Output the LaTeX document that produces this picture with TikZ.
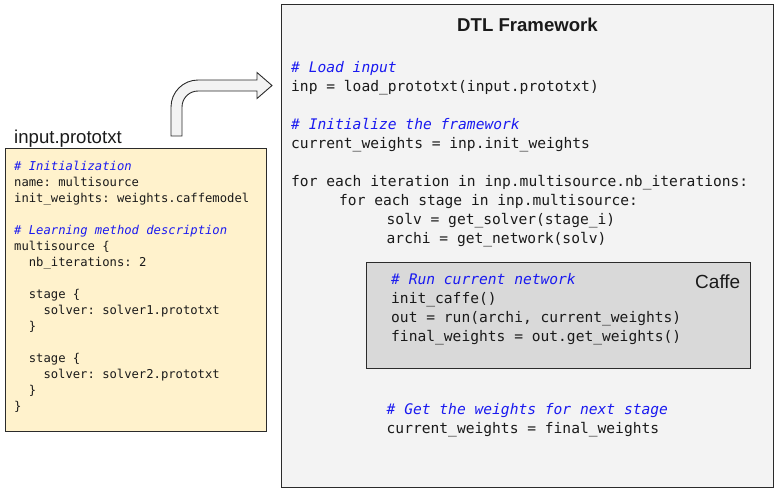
\documentclass[tikz,border=0pt]{standalone}
\usepackage{fontspec}
\setmainfont{Liberation Sans}
\setmonofont{DejaVu Sans Mono}
\definecolor{txt}{HTML}{1A1A1A}
\definecolor{cblue}{HTML}{1A1AF0}
\definecolor{yel}{HTML}{FFF2CC}
\definecolor{bgl}{HTML}{F3F3F3}
\definecolor{caffe}{HTML}{D9D9D9}
\definecolor{edge}{HTML}{2B2B2B}
\tikzset{
  rcode/.style={font=\fontsize{14.6}{19}\selectfont\ttfamily, text=txt, inner sep=0pt, anchor=base west},
  rcmt/.style={rcode, font=\fontsize{14.6}{19}\selectfont\ttfamily\itshape, text=cblue},
  lcode/.style={font=\fontsize{12.2}{16}\selectfont\ttfamily, text=txt, inner sep=0pt, anchor=base west},
  lcmt/.style={lcode, font=\fontsize{12.2}{16}\selectfont\ttfamily\itshape, text=cblue},
  label/.style={font=\fontsize{18.6}{22}\selectfont, text=txt, inner sep=0pt},
  panel/.style={draw=edge, line width=1pt}
}
\begin{document}
\begin{tikzpicture}[x=1pt,y=-1pt]
\useasboundingbox (0,0) rectangle (777,491);
% boxes
\draw[panel, fill=bgl] (281,4.5) rectangle (773,487);
\draw[panel, fill=yel] (5,148.3) rectangle (266.5,431.5);
\draw[panel, fill=caffe] (366,262) rectangle (750,368);
% bent arrow
\draw[draw=edge, line width=0.9pt, fill=bgl, line join=miter]
  (171,136) -- (171,107) arc[start angle=180, end angle=270, radius=27]
  -- (257,80) -- (257,72.5) -- (272,85.5) -- (257,98.5) -- (257,91) -- (198,91)
  arc[start angle=270, end angle=180, radius=16] -- (182,136) -- cycle;
% labels
\node[label, anchor=base west] (inlab) at (14,143.3) {input.prototxt};
\node[label, anchor=base, font=\fontsize{18.6}{22}\selectfont\bfseries] (title) at (527.5,31.7) {DTL Framework};
\node[label, anchor=base east, font=\fontsize{19}{22}\selectfont] (caffelab) at (740.5,288) {Caffe};
% left code
\node[lcmt] (l1) at (14,170) {\# Initialization};
\node[lcode] (l2) at (14,186) {name: multisource};
\node[lcode] (l3) at (14,202) {init\_weights: weights.caffemodel};
\node[lcmt] (l4) at (14,234) {\# Learning method description};
\node[lcode] (l5) at (14,250) {multisource \{};
\node[lcode] (l6) at (28.7,266) {nb\_iterations: 2};
\node[lcode] (l7) at (28.7,298) {stage \{};
\node[lcode] (l8) at (43.3,314) {solver: solver1.prototxt};
\node[lcode] (l9) at (28.7,330) {\}};
\node[lcode] (l10) at (28.7,362) {stage \{};
\node[lcode] (l11) at (43.3,378) {solver: solver2.prototxt};
\node[lcode] (l12) at (28.7,394) {\}};
\node[lcode] (l13) at (14,410) {\}};
% right code
\node[rcmt] (r1) at (291,72.7) {\# Load input};
\node[rcode] (r2) at (291,91.7) {inp = load\_prototxt(input.prototxt)};
\node[rcmt] (r3) at (291,129.7) {\# Initialize the framework};
\node[rcode] (r4) at (291,148.7) {current\_weights = inp.init\_weights};
\node[rcode] (r5) at (291,186.7) {for each iteration in inp.multisource.nb\_iterations:};
\node[rcode] (r6) at (339,205.7) {for each stage in inp.multisource:};
\node[rcode] (r7) at (386.5,224.7) {solv = get\_solver(stage\_i)};
\node[rcode] (r8) at (386.5,243.7) {archi = get\_network(solv)};
% caffe code
\node[rcmt] (c1) at (391,284.7) {\# Run current network};
\node[rcode] (c2) at (391,303.7) {init\_caffe()};
\node[rcode] (c3) at (391,322.7) {out = run(archi, current\_weights)};
\node[rcode] (c4) at (391,341.7) {final\_weights = out.get\_weights()};
% final code
\node[rcmt] (f1) at (386.5,414.3) {\# Get the weights for next stage};
\node[rcode] (f2) at (386.5,433.3) {current\_weights = final\_weights};
\end{tikzpicture}
\end{document}
